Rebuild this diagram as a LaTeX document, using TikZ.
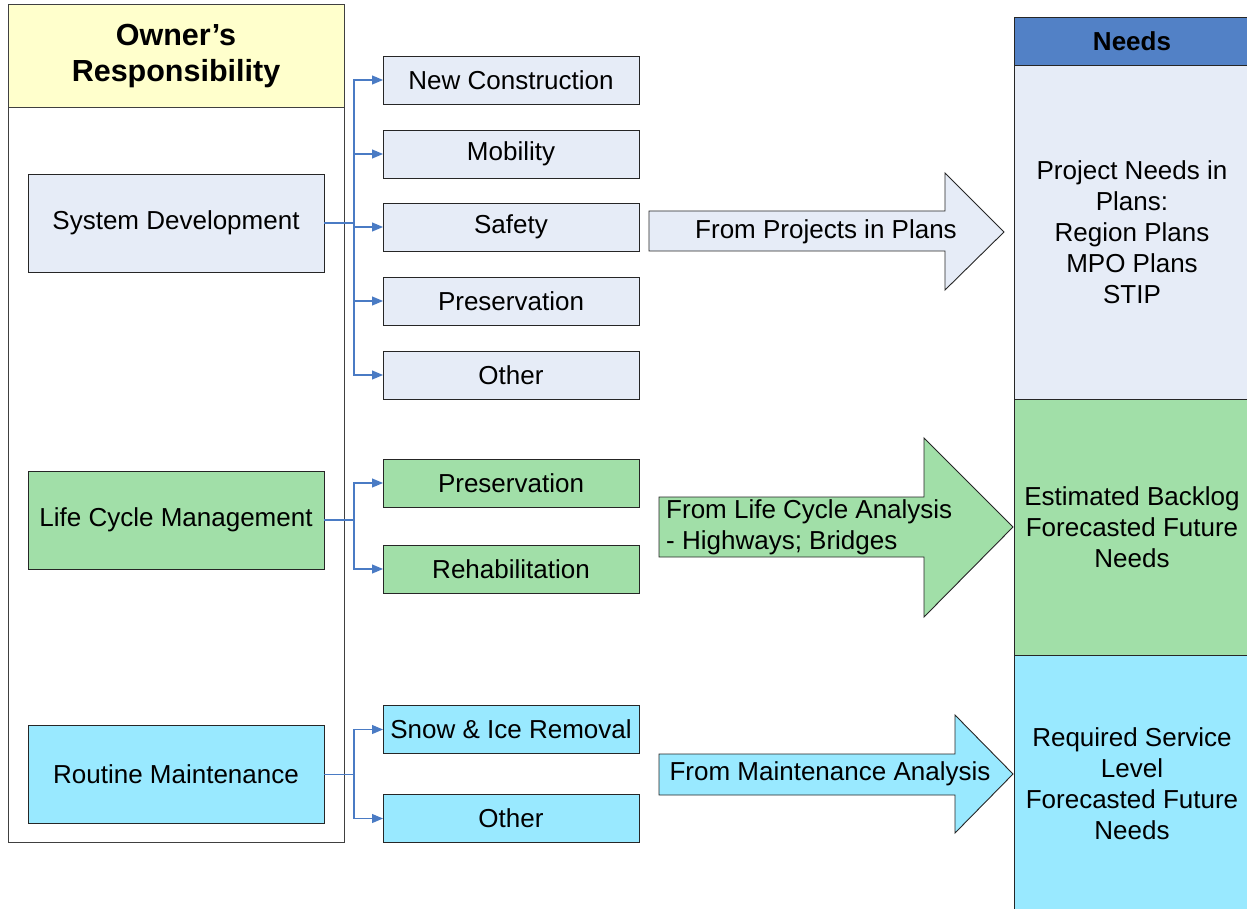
\documentclass[tikz,border=0pt]{standalone}
\usepackage{fontspec}
\setmainfont{Liberation Sans}
\usetikzlibrary{arrows.meta,positioning}
\definecolor{paleblue}{HTML}{E6ECF7}
\definecolor{palegreen}{HTML}{A1DFA8}
\definecolor{paleaqua}{HTML}{99E9FF}
\definecolor{headblue}{HTML}{5281C6}
\definecolor{paleyellow}{HTML}{FFFFCC}
\definecolor{linkblue}{HTML}{4A7BC4}
\tikzset{
  box/.style={draw=black!85, line width=0.9pt, inner sep=0pt, outer sep=0pt,
    font=\fontsize{26}{31}\selectfont, align=center},
  owner/.style={box, minimum width=296pt, minimum height=98pt},
  task/.style={box, minimum width=256pt, minimum height=48pt},
  panel/.style={box, minimum width=236pt},
  link/.style={draw=linkblue, line width=1.2pt, -{Triangle[length=11pt,width=9pt]}},
  bigarrow/.style={draw=black!85, line width=0.9pt},
  label/.style={inner sep=0pt, font=\fontsize{26}{31}\selectfont},
}

\begin{document}
\begin{tikzpicture}[x=1pt, y=-1pt]
  \useasboundingbox (0,0) rectangle (1247,909);
  \clip (0,0) rectangle (1247,909);

  % owner's column
  \draw[draw=black!75, line width=1pt] (8,5) rectangle (344,842);
  \node[box, draw=black!75, line width=1pt, fill=paleyellow, minimum width=336pt,
    minimum height=103pt, font=\fontsize{30.5}{36}\selectfont\bfseries]
    (title) at (176,56.5) {Owner’s\\Responsibility};

  \node[owner, fill=paleblue]  (sysdev) at (176,223)   {System Development};
  \node[owner, fill=palegreen] (lifecyc) at (176,520)  {Life Cycle Management};
  \node[owner, fill=paleaqua]  (routine) at (176,774.5) {Routine Maintenance};

  % programme boxes
  \node[task, fill=paleblue] (newcon) at (511,80)  {New Construction};
  \node[task, fill=paleblue] (mobil)  at (511,154) {Mobility};
  \node[task, fill=paleblue] (safety) at (511,227) {Safety};
  \node[task, fill=paleblue] (presv)  at (511,301) {Preservation};
  \node[task, fill=paleblue] (other)  at (511,375) {Other};

  \node[task, fill=palegreen] (lcpresv) at (511,483) {Preservation};
  \node[task, fill=palegreen] (rehab)   at (511,569) {Rehabilitation};

  \node[task, fill=paleaqua] (snow)   at (511,729.5) {Snow \& Ice Removal};
  \node[task, fill=paleaqua] (rmother) at (511,818.5) {Other};

  % connectors
  \foreach \t in {newcon,mobil,safety,presv,other}
    \draw[link] (sysdev.east) -| ([xshift=-29pt]\t.west) -- (\t.west);
  \foreach \t in {lcpresv,rehab}
    \draw[link] (lifecyc.east) -| ([xshift=-29pt]\t.west) -- (\t.west);
  \foreach \t in {snow,rmother}
    \draw[link] (routine.east) -| ([xshift=-29pt]\t.west) -- (\t.west);

  % needs column
  \node[panel, fill=headblue, minimum height=48pt, font=\fontsize{26}{31}\selectfont\bfseries]
    (needs) at (1132,41) {Needs};
  \node[panel, fill=paleblue, minimum height=334pt] (plans) at (1132,232)
    {Project Needs in\\Plans:\\Region Plans\\MPO Plans\\STIP};
  \node[panel, fill=palegreen, minimum height=256pt] (backlog) at (1132,527)
    {Estimated Backlog\\Forecasted Future\\Needs};
  \node[panel, fill=paleaqua, minimum height=257pt] (service) at (1132,783.5)
    {Required Service\\Level\\Forecasted Future\\Needs};

  % block arrows
  \draw[bigarrow, fill=paleblue] (649,211) -- (945,211) -- (945,173) -- (1004,232)
    -- (945,290) -- (945,251) -- (649,251) -- cycle;
  \node[label] (fromplans) at (826,232) {From Projects in Plans};

  \draw[bigarrow, fill=palegreen] (659,497) -- (924,497) -- (924,438) -- (1013,527)
    -- (924,617) -- (924,557) -- (659,557) -- cycle;
  \node[label, anchor=west, align=left] (fromlife) at (666,527)
    {From Life Cycle Analysis\\- Highways; Bridges};

  \draw[bigarrow, fill=paleaqua] (659,754) -- (955,754) -- (955,715) -- (1013,774)
    -- (955,833) -- (955,795) -- (659,795) -- cycle;
  \node[label] (frommaint) at (830,774) {From Maintenance Analysis};
\end{tikzpicture}
\end{document}
